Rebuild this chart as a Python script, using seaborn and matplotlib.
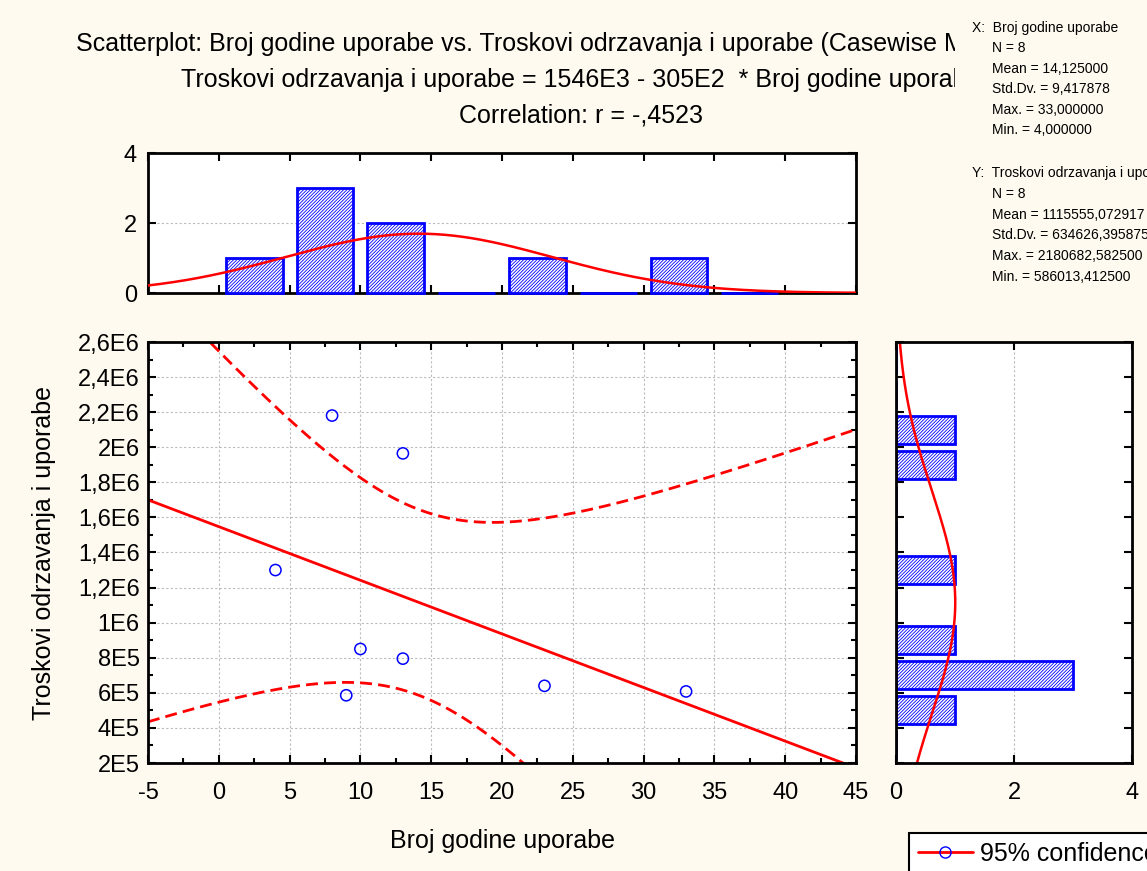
import numpy as np
import pandas as pd
import matplotlib
matplotlib.use('Agg')
import matplotlib.pyplot as plt
import seaborn as sns
from matplotlib.ticker import MultipleLocator, FuncFormatter, NullFormatter
from matplotlib.lines import Line2D
from matplotlib.patches import Rectangle

# data
years = [4, 8, 13, 10, 13, 9, 23, 33]
costs = [1300000, 2180683, 1965000, 850000, 795000, 586013, 640000, 608000]

x_edges = [0, 5, 10, 15, 20, 25, 30, 35, 40]
y_edges = [2e5, 4e5, 6e5, 8e5, 1e6, 1.2e6, 1.4e6, 1.6e6, 1.8e6, 2e6, 2.2e6, 2.4e6, 2.6e6]

title_lines = [
    'Scatterplot: Broj godine uporabe vs. Troskovi odrzavanja i uporabe (Casewise MD deletion)',
    'Troskovi odrzavanja i uporabe = 1546E3 - 305E2  * Broj godine uporabe',
    'Correlation: r = -,4523',
]
stats_x = ['X:  Broj godine uporabe', 'N = 8', 'Mean = 14,125000', 'Std.Dv. = 9,417878',
           'Max. = 33,000000', 'Min. = 4,000000']
stats_y = ['Y:  Troskovi odrzavanja i uporabe', 'N = 8', 'Mean = 1115555,072917',
           'Std.Dv. = 634626,395875', 'Max. = 2180682,582500', 'Min. = 586013,412500']

T_CRIT = 2.446912  # t(0.975, df=6)

BG = '#FFFAF0'
W, H = 1147, 871

sns.set_style('ticks')
plt.rcParams['font.family'] = ['Liberation Sans', 'DejaVu Sans']
plt.rcParams['hatch.linewidth'] = 0.6
plt.rcParams['axes.unicode_minus'] = False
for key in ['text.color', 'axes.labelcolor', 'xtick.color', 'ytick.color']:
    plt.rcParams[key] = 'black'

x = np.array(years, dtype=float)
y = np.array(costs, dtype=float)
n = len(x)


def rect(l, t, r, b):
    return [l / W, 1 - b / H, (r - l) / W, (b - t) / H]


def style_axes(ax):
    for s in ax.spines.values():
        s.set_linewidth(2)
        s.set_color('black')
        s.set_visible(True)
    ax.set_facecolor('white')
    ax.tick_params(which='both', direction='in', top=True, right=True,
                   width=1.5, color='black', labelcolor='black', labelsize=17)
    ax.tick_params(which='major', length=6)
    ax.tick_params(which='minor', length=3.5)


def sci_fmt(v, pos):
    if v >= 1e6:
        s = '{:g}'.format(round(v / 1e6, 2)).replace('.', ',')
        return s + 'E6'
    s = '{:g}'.format(round(v / 1e5, 2)).replace('.', ',')
    return s + 'E5'


fig = plt.figure(figsize=(W / 100, H / 100), dpi=100, facecolor=BG)

ax_main = fig.add_axes(rect(148, 342, 856, 763))
ax_top = fig.add_axes(rect(148, 153, 856, 293))
ax_right = fig.add_axes(rect(896, 342, 1132, 763))

grid_kw = dict(color='#bbbbbb', linestyle=(0, (2, 2)), linewidth=0.8)
hatch = '//////////'

# ---- main scatter with regression + 95% confidence bands
slope, intercept = np.polyfit(x, y, 1)
xbar = x.mean()
sxx = ((x - xbar) ** 2).sum()
resid = y - (intercept + slope * x)
s_err = np.sqrt((resid ** 2).sum() / (n - 2))
xs = np.linspace(-5, 45, 400)
fit = intercept + slope * xs
half = T_CRIT * s_err * np.sqrt(1 / n + (xs - xbar) ** 2 / sxx)

sns.lineplot(x=xs, y=fit, ax=ax_main, color='red', lw=2, sort=False, estimator=None)
sns.lineplot(x=xs, y=fit + half, ax=ax_main, color='red', lw=2,
             linestyle=(0, (4.3, 2.2)), sort=False, estimator=None)
sns.lineplot(x=xs, y=fit - half, ax=ax_main, color='red', lw=2,
             linestyle=(0, (4.3, 2.2)), sort=False, estimator=None)
sns.scatterplot(x=x, y=y, ax=ax_main, s=65, edgecolor='blue', linewidth=1.1, zorder=5)
for coll in ax_main.collections:
    coll.set_facecolor('none')
    coll.set_edgecolor('blue')

ax_main.set_xlim(-5, 45)
ax_main.set_ylim(2e5, 2.6e6)
ax_main.xaxis.set_major_locator(MultipleLocator(5))
ax_main.xaxis.set_minor_locator(MultipleLocator(2.5))
ax_main.yaxis.set_major_locator(MultipleLocator(2e5))
ax_main.yaxis.set_minor_locator(MultipleLocator(1e5))
ax_main.yaxis.set_major_formatter(FuncFormatter(sci_fmt))
ax_main.grid(True, which='major', **grid_kw)
style_axes(ax_main)
ax_main.tick_params(axis='x', pad=14)
ax_main.tick_params(axis='y', pad=6)
ax_main.set_xlabel('Broj godine uporabe', fontsize=18, labelpad=18)
ax_main.set_ylabel('Troskovi odrzavanja i uporabe', fontsize=18, labelpad=16)

# ---- top histogram (right-closed bins)
x_bins = pd.Series(pd.cut(x, x_edges, right=True, include_lowest=True))
x_counts = x_bins.value_counts(sort=False).sort_index().values
x_centers = (np.array(x_edges[:-1]) + np.array(x_edges[1:])) / 2
sns.histplot(x=x_centers, weights=x_counts, bins=x_edges, shrink=0.8, ax=ax_top,
             facecolor='white', edgecolor='blue', linewidth=2, hatch=hatch, alpha=1)
for bar in ax_top.patches:
    bar.set_clip_on(False)
    bar.set_zorder(3)
xs_n = np.linspace(-5, 45, 400)
mu_x, sd_x = x.mean(), x.std(ddof=1)
pdf_x = n * 5 * np.exp(-0.5 * ((xs_n - mu_x) / sd_x) ** 2) / (sd_x * np.sqrt(2 * np.pi))
sns.lineplot(x=xs_n, y=pdf_x, ax=ax_top, color='red', lw=1.8, sort=False, estimator=None,
             zorder=4)
ax_top.set_xlim(-5, 45)
ax_top.set_ylim(0, 4)
ax_top.xaxis.set_major_locator(MultipleLocator(5))
ax_top.xaxis.set_major_formatter(NullFormatter())
ax_top.yaxis.set_major_locator(MultipleLocator(2))
ax_top.grid(True, axis='y', **grid_kw)
style_axes(ax_top)
ax_top.tick_params(axis='y', pad=8)
ax_top.set_xlabel('')
ax_top.set_ylabel('')

# ---- right histogram
sns.histplot(y=y, bins=y_edges, shrink=0.8, ax=ax_right,
             facecolor='white', edgecolor='blue', linewidth=2, hatch=hatch, alpha=1)
ys_n = np.linspace(2e5, 2.6e6, 400)
mu_y, sd_y = y.mean(), y.std(ddof=1)
pdf_y = n * 2e5 * np.exp(-0.5 * ((ys_n - mu_y) / sd_y) ** 2) / (sd_y * np.sqrt(2 * np.pi))
sns.lineplot(x=pdf_y, y=ys_n, ax=ax_right, color='red', lw=1.8, sort=False, estimator=None)
ax_right.set_xlim(0, 4)
ax_right.set_ylim(2e5, 2.6e6)
ax_right.xaxis.set_major_locator(MultipleLocator(2))
ax_right.yaxis.set_major_locator(MultipleLocator(2e5))
ax_right.yaxis.set_major_formatter(NullFormatter())
ax_right.grid(True, axis='x', **grid_kw)
style_axes(ax_right)
ax_right.tick_params(axis='x', pad=14)
ax_right.set_xlabel('')
ax_right.set_ylabel('')

# ---- titles
for i, line in enumerate(title_lines):
    fig.text(581 / W, 1 - (44 + 36 * i) / H, line, ha='center', va='center',
             fontsize=18, zorder=3)

# stats box covers the end of the long title lines
fig.add_artist(Rectangle((955 / W, 1 - 300 / H), (W - 955) / W, 300 / H,
                         transform=fig.transFigure, facecolor=BG, edgecolor='none', zorder=5))
for i, line in enumerate(stats_x):
    fig.text((972 if i == 0 else 992) / W, 1 - (28 + 20.4 * i) / H, line,
             ha='left', va='center', fontsize=10, zorder=6)
for i, line in enumerate(stats_y):
    fig.text((972 if i == 0 else 992) / W, 1 - (173 + 20.8 * i) / H, line,
             ha='left', va='center', fontsize=10, zorder=6)

# ---- legend
handle = Line2D([0], [0], color='red', lw=2, marker='o', mfc='none', mec='blue', ms=8)
leg = fig.legend(handles=[handle], labels=['95% confidence'], loc='upper left',
                 bbox_to_anchor=(909 / W, 1 - 833 / H), frameon=True, fancybox=False,
                 edgecolor='black', facecolor='white', framealpha=1, fontsize=18,
                 borderpad=0.35, handlelength=2.2, handletextpad=0.3, borderaxespad=0)
leg.get_frame().set_linewidth(1.5)

fig.savefig('out.png', dpi=100, facecolor=BG)
plt.close(fig)
